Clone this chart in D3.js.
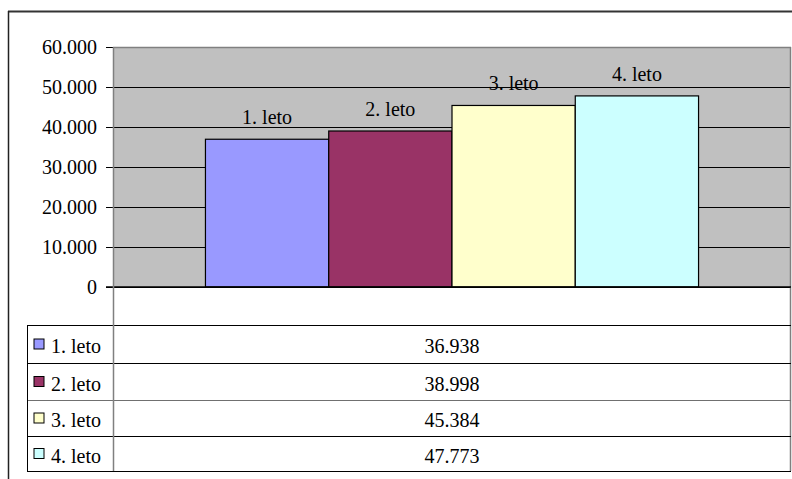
<!DOCTYPE html>
<html>
<head>
<meta charset="utf-8">
<script src="https://cdn.jsdelivr.net/npm/d3@7"></script>
<style>
  html, body { margin: 0; padding: 0; background: #fff; }
  svg { display: block; }
  text { font-family: "Liberation Serif", "Times New Roman", serif; font-size: 20px; fill: #000; }
</style>
</head>
<body>
<svg id="chart" width="792" height="479"></svg>
<script>
// Series (one bar per study year) and their values
const series = ["1. leto", "2. leto", "3. leto", "4. leto"];
const values = [36938, 38998, 45384, 47773];
const colors = ["#9999FF", "#993366", "#FFFFCC", "#CCFFFF"];
const yTicks = [0, 10000, 20000, 30000, 40000, 50000, 60000];

const svg = d3.select("#chart");
const W = 792, H = 479;

// Slovenian number formatting: "." as thousands separator
const loc = d3.formatLocale({ decimal: ",", thousands: ".", grouping: [3], currency: ["", " €"] });
const fmt = loc.format(",d");

// Plot area geometry
const plot = { left: 113, right: 791, top: 47, bottom: 287 };
const table = { left: 27, top: 325, bottom: 471 };
// Horizontal edges of the data-table rows
const rowEdges = [325, 363, 400, 436, 471];

const y = d3.scaleLinear().domain([0, 60000]).range([plot.bottom, plot.top]);
const x = d3.scaleBand().domain(series)
  .range([plot.left, plot.right])
  .paddingInner(0).paddingOuter(0.75);

// Outer chart frame
svg.append("line").attr("x1", 8).attr("x2", W).attr("y1", 11.5).attr("y2", 11.5)
  .attr("stroke", "#333").attr("stroke-width", 2);
svg.append("line").attr("x1", 8.5).attr("x2", 8.5).attr("y1", 11).attr("y2", H)
  .attr("stroke", "#222").attr("stroke-width", 1.5);

// Plot background
svg.append("rect")
  .attr("x", plot.left).attr("y", plot.top)
  .attr("width", plot.right - plot.left).attr("height", plot.bottom - plot.top)
  .attr("fill", "#C0C0C0");

// Gridlines with tick marks, via the axis generator
const yAxis = d3.axisLeft(y).tickValues(yTicks)
  .tickSize(-(plot.right - plot.left)).tickFormat(fmt).tickPadding(16);
const gAxis = svg.append("g")
  .attr("transform", `translate(${plot.left},0)`)
  .call(yAxis);
gAxis.select(".domain").remove();
gAxis.selectAll(".tick line")
  .attr("x1", -7).attr("stroke", "#000").attr("stroke-width", 1);
gAxis.selectAll(".tick text")
  .attr("x", -16)
  .style("font-family", "'Liberation Serif', 'Times New Roman', serif")
  .style("font-size", "20px").attr("fill", "#000");

// Plot border (top and right)
svg.append("line").attr("x1", plot.left).attr("x2", plot.right)
  .attr("y1", plot.top + 0.5).attr("y2", plot.top + 0.5)
  .attr("stroke", "#808080").attr("stroke-width", 1.5);
svg.append("line").attr("x1", plot.right - 0.5).attr("x2", plot.right - 0.5)
  .attr("y1", plot.top).attr("y2", table.bottom)
  .attr("stroke", "#808080").attr("stroke-width", 1.5);

// Bars
svg.append("g").selectAll("rect")
  .data(series)
  .join("rect")
  .attr("x", d => x(d))
  .attr("y", (d, i) => y(values[i]))
  .attr("width", x.bandwidth())
  .attr("height", (d, i) => y(0) - y(values[i]))
  .attr("fill", (d, i) => colors[i])
  .attr("stroke", "#000").attr("stroke-width", 1.2);

// Series labels above each bar
svg.append("g").selectAll("text")
  .data(series)
  .join("text")
  .attr("x", d => x(d) + x.bandwidth() / 2)
  .attr("y", (d, i) => y(values[i]) - 15)
  .attr("text-anchor", "middle")
  .text(d => d);

// Zero line across plot
svg.append("line").attr("x1", plot.left - 7).attr("x2", plot.right)
  .attr("y1", y(0)).attr("y2", y(0)).attr("stroke", "#000").attr("stroke-width", 1.5);

// Data table rows
const rowTop = i => rowEdges[i];
const rowMid = i => (rowEdges[i] + rowEdges[i + 1]) / 2;

// Row separators
svg.append("g").selectAll("line")
  .data(rowEdges)
  .join("line")
  .attr("x1", table.left).attr("x2", plot.right)
  .attr("y1", d => d + 0.5).attr("y2", d => d + 0.5)
  .attr("stroke", (d, i) => i === 2 ? "#707070" : "#000")
  .attr("stroke-width", 1.2);

// Left edge of the table
svg.append("line").attr("x1", table.left + 0.5).attr("x2", table.left + 0.5)
  .attr("y1", table.top).attr("y2", table.bottom).attr("stroke", "#000");

// Value axis line, continuing as table column divider
svg.append("line").attr("x1", plot.left + 0.5).attr("x2", plot.left + 0.5)
  .attr("y1", plot.top).attr("y2", table.bottom)
  .attr("stroke", "#808080").attr("stroke-width", 1.5);

// Legend keys and series names
const legend = svg.append("g").selectAll("g")
  .data(series)
  .join("g");
legend.append("rect")
  .attr("x", 34).attr("y", (d, i) => rowMid(i) - 5)
  .attr("width", 10).attr("height", 10)
  .attr("fill", (d, i) => colors[i])
  .attr("stroke", "#000").attr("stroke-width", 1);
legend.append("text")
  .attr("x", 51).attr("y", (d, i) => rowMid(i) + 9)
  .text(d => d);

// Values column
svg.append("g").selectAll("text")
  .data(series)
  .join("text")
  .attr("x", (plot.left + plot.right) / 2)
  .attr("y", (d, i) => rowMid(i) + 9)
  .attr("text-anchor", "middle")
  .text((d, i) => fmt(values[i]));
</script>
</body>
</html>
